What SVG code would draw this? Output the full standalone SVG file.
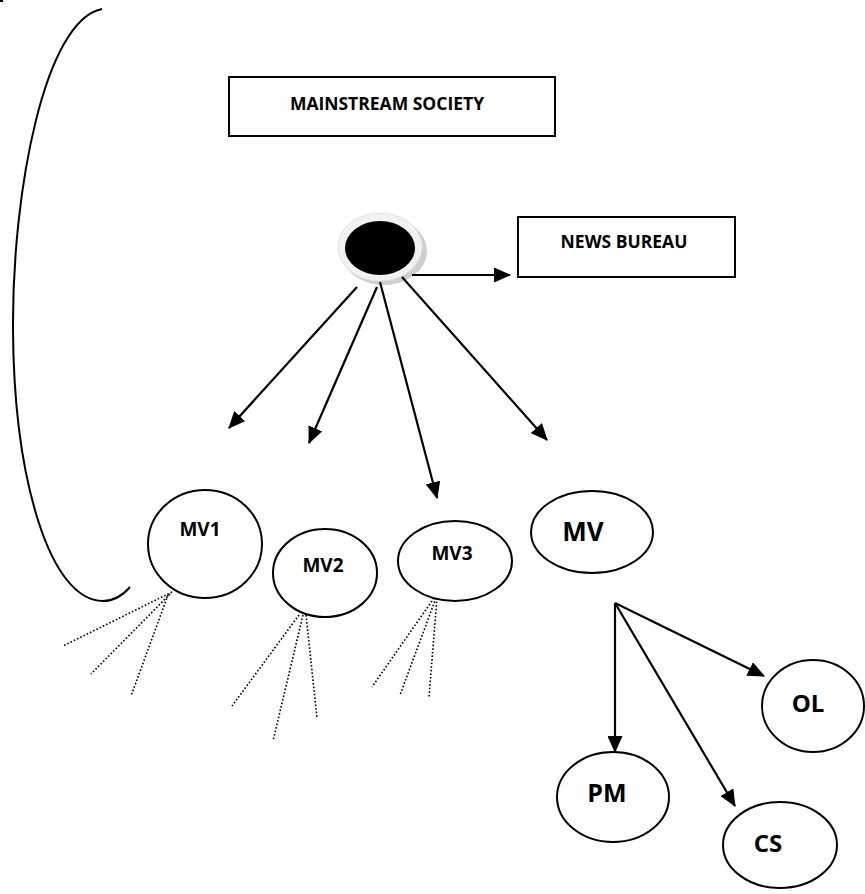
<svg xmlns="http://www.w3.org/2000/svg" width="865" height="894" viewBox="0 0 865 894">
<style>
.box{fill:#fff;stroke:#000;stroke-width:2}
.ell{fill:#fff;stroke:#000;stroke-width:2}
.t{font-family:"Open Sans","Liberation Sans",sans-serif;font-weight:bold;fill:#000;text-anchor:middle}
.arr{stroke:#000;stroke-width:2.2;fill:none;marker-end:url(#ah)}
.dot{stroke:#000;stroke-width:1.6;fill:none;stroke-dasharray:1.6 2}
</style>
<defs>
<marker id="ah" markerUnits="userSpaceOnUse" markerWidth="17" markerHeight="15" refX="16" refY="7.5" orient="auto">
<path d="M0,0 L17,7.5 L0,15 Z" fill="#000"/>
</marker>
</defs>
<rect x="0" y="0" width="3" height="2" fill="#000"/>
<path d="M102,9 C45,20 12,190 13,330 C14,480 50,601 103,601 C115,601 124,594 130,587" fill="none" stroke="#000" stroke-width="2"/>
<g id="mainstream">
<rect class="box" x="229" y="77" width="326" height="59"/>
<text class="t" x="387" y="110" font-size="17.5">MAINSTREAM SOCIETY</text>
</g>
<g id="newsbureau">
<rect class="box" x="518" y="217" width="217" height="60"/>
<text class="t" x="624" y="248" font-size="17.5">NEWS BUREAU</text>
</g>
<g id="hub">
<ellipse cx="384" cy="251" rx="43" ry="34" fill="#cfcfcf"/>
<ellipse cx="380" cy="247" rx="42" ry="34" fill="#f2f2f2" stroke="#e2e2e2" stroke-width="1"/>
<ellipse cx="380" cy="248" rx="35" ry="27" fill="#000"/>
</g>
<g id="connectors">
<line class="arr" x1="412" y1="275" x2="510" y2="275"/>
<line class="arr" x1="357" y1="287" x2="229" y2="428"/>
<line class="arr" x1="377" y1="287" x2="309" y2="443"/>
<line class="arr" x1="380" y1="282" x2="437" y2="498"/>
<line class="arr" x1="402" y1="277" x2="547" y2="440"/>
<line class="arr" x1="615" y1="603" x2="615" y2="752"/>
<line class="arr" x1="615" y1="603" x2="735" y2="806"/>
<line class="arr" x1="615" y1="603" x2="764" y2="676"/>
<line class="dot" x1="172" y1="592" x2="63" y2="646"/>
<line class="dot" x1="170" y1="594" x2="91" y2="674"/>
<line class="dot" x1="168" y1="595" x2="131" y2="696"/>
<line class="dot" x1="299" y1="615" x2="232" y2="706"/>
<line class="dot" x1="303" y1="615" x2="273" y2="741"/>
<line class="dot" x1="306" y1="615" x2="317" y2="718"/>
<line class="dot" x1="434" y1="598" x2="372" y2="687"/>
<line class="dot" x1="436" y1="598" x2="400" y2="695"/>
<line class="dot" x1="437" y1="598" x2="429" y2="697"/>
</g>
<g id="mv1">
<ellipse class="ell" cx="205" cy="544" rx="57" ry="54"/>
<text class="t" x="200" y="536" font-size="19">MV1</text>
</g>
<g id="mv2">
<ellipse class="ell" cx="325" cy="573" rx="52" ry="44"/>
<text class="t" x="323" y="572" font-size="19">MV2</text>
</g>
<g id="mv3">
<ellipse class="ell" cx="455" cy="561" rx="57" ry="40"/>
<text class="t" x="452" y="560" font-size="19">MV3</text>
</g>
<g id="mv">
<ellipse class="ell" cx="592" cy="532" rx="61" ry="41"/>
<text class="t" x="583" y="541" font-size="26">MV</text>
</g>
<g id="pm">
<ellipse class="ell" cx="613" cy="797" rx="56" ry="45"/>
<text class="t" x="607" y="802" font-size="25">PM</text>
</g>
<g id="cs">
<ellipse class="ell" cx="780" cy="845" rx="57" ry="43"/>
<text class="t" x="768" y="852" font-size="24">CS</text>
</g>
<g id="ol">
<ellipse class="ell" cx="813" cy="706" rx="51" ry="46"/>
<text class="t" x="808" y="712" font-size="24">OL</text>
</g>
</svg>
